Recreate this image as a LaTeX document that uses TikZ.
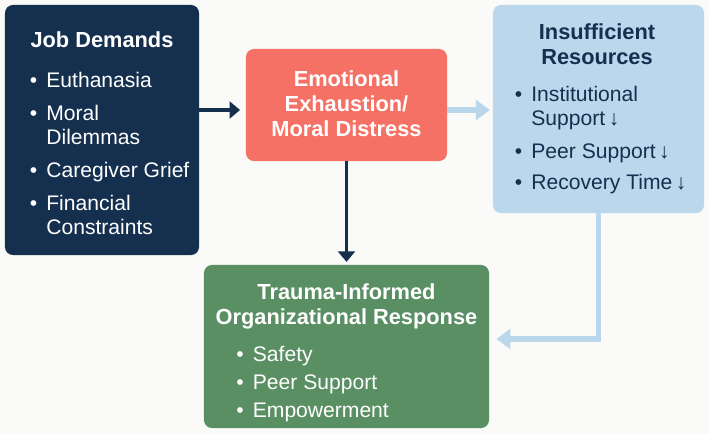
\documentclass[tikz,border=0pt]{standalone}
\usepackage{fontspec}
\setmainfont{Liberation Sans}
\usetikzlibrary{arrows.meta, positioning}
\definecolor{demandnavy}{RGB}{21,48,79}
\definecolor{distresssalmon}{RGB}{245,113,101}
\definecolor{resourceblue}{RGB}{186,215,236}
\definecolor{responsegreen}{RGB}{90,143,100}
\definecolor{pagewhite}{RGB}{250,250,248}

\tikzset{
  panel/.style={rounded corners=5.7pt, inner sep=0pt, draw=none},
  paneltitle/.style={font=\fontsize{15.5}{18}\selectfont\bfseries, align=center, inner sep=0pt},
  panellist/.style={font=\fontsize{15}{17}\selectfont, align=left, inner sep=0pt, anchor=north west},
  darkarrow/.style={demandnavy, line width=2.8pt, -{Triangle[length=7.5pt,width=12pt]}},
  lightarrow/.style={resourceblue, line width=4.2pt, -{Triangle[length=10pt,width=14pt]}},
}
\newcommand{\itembullet}{\makebox[11.8pt][l]{\textbullet}}
\newcommand{\itemcont}{\hspace*{11.8pt}}

\begin{document}
\begin{tikzpicture}[x=0.025cm, y=-0.025cm]
  \fill[pagewhite] (0,0) rectangle (709,434);
  \useasboundingbox (0,0) rectangle (709,434);

  %% Panels
  \node[panel, fill=demandnavy, minimum width=4.85cm, minimum height=6.25cm] (demands) at (102,130) {};
  \node[panel, fill=distresssalmon, minimum width=5.025cm, minimum height=2.8cm] (distress) at (346.5,105) {};
  \node[panel, fill=resourceblue, minimum width=5.275cm, minimum height=5.2cm] (resources) at (598.5,109) {};
  \node[panel, fill=responsegreen, minimum width=7.125cm, minimum height=4.075cm] (response) at (346.5,346.5) {};

  %% Job demands
  \node[paneltitle, text=white, anchor=base] (demandstitle) at (102,47) {Job Demands};
  \node[panellist, text=white] (demandslist) at (29.5,72) {%
    \itembullet Euthanasia\\[6.5pt]
    \itembullet Moral\\
    \itemcont Dilemmas\\[6.5pt]
    \itembullet Caregiver Grief\\[6.5pt]
    \itembullet Financial\\
    \itemcont Constraints};

  %% Emotional exhaustion
  \node[paneltitle, text=white, anchor=north] (distresstitle) at (346.5,70)
    {Emotional\\Exhaustion/\\Moral Distress};

  %% Insufficient resources
  \node[paneltitle, text=demandnavy, anchor=north] (resourcestitle) at (597,23)
    {Insufficient\\Resources};
  \node[panellist, text=demandnavy] (resourceslist) at (514.5,86) {%
    \itembullet Institutional\\
    \itemcont Support\,↓\\[6.5pt]
    \itembullet Peer Support\,↓\\[5pt]
    \itembullet Recovery Time\,↓};

  %% Trauma-informed response
  \node[paneltitle, text=white, anchor=north] (responsetitle) at (346.5,283)
    {Trauma-Informed\\Organizational Response};
  \node[panellist, text=white] (responselist) at (236,346) {%
    \itembullet Safety\\[3pt]
    \itembullet Peer Support\\[3pt]
    \itembullet Empowerment};

  %% Connectors
  \coordinate (arrowrow) at (0,110);
  \coordinate (elbowrow) at (0,339);
  \draw[darkarrow, shorten >=4pt] (demands.east |- arrowrow) -- (distress.west |- arrowrow);
  \draw[lightarrow, shorten >=2pt] (distress.east |- arrowrow) -- (resources.west |- arrowrow);
  \draw[darkarrow, shorten >=2pt] (distress.south) -- (response.north);
  \draw[lightarrow, shorten >=5pt] (resources.south) |- (response.east |- elbowrow);
\end{tikzpicture}
\end{document}
